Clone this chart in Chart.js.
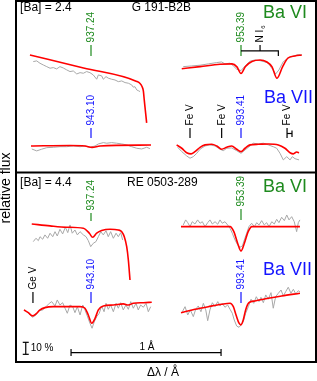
<!DOCTYPE html>
<html><head><meta charset="utf-8">
<script src="https://cdn.jsdelivr.net/npm/chart.js@4.4.0/dist/chart.umd.min.js"></script>
<style>html,body{margin:0;padding:0;background:#fff;}canvas{display:block;}</style>
</head><body>
<canvas id="c" width="317" height="381"></canvas>
<script>
// x: wavelength offset from the line centre (Å); y: relative flux (%) incl. vertical shift
// ---- G 191-B2B, [Ba] = 2.4 ----
const g937ObsDl = [-0.385,-0.362,-0.34,-0.318,-0.295,-0.273,-0.251,-0.229,-0.207,-0.185,-0.162,-0.14,-0.118,-0.095,-0.073,-0.051,-0.029,-0.007,0.015,0.038,0.049,0.071,0.082,0.1,0.115,0.138,0.16,0.182,0.205,0.227,0.249,0.271,0.282,0.293,0.305,0.315,0.327];
const g937ObsF  = [250.3,250.9,248.9,247.5,246.1,244.8,245.3,244.2,246.1,245,243.4,242,242.5,240,241.1,240.6,242,241.1,239.2,235.6,239.2,238.4,235.6,237.8,236.5,235.6,235,233.6,234.2,232.8,232.3,230.9,229,229.4,226.7,226.1,225.3];
const g937ModDl = [-0.407,-0.05,0.305,0.327,0.34,0.349,0.355,0.362,0.371];
const g937ModF  = [255.8,245,233.8,232.1,229.6,225.9,218.4,210,199.2];

const g943ObsDl = [-0.395,-0.362,-0.329,-0.295,-0.251,-0.207,-0.162,-0.118,-0.073,-0.04,-0.007,0.027,0.049,0.082,0.105,0.138,0.171,0.205,0.238,0.271,0.305,0.338,0.371,0.393];
const g943ObsF  = [177.5,175.9,177.3,178.6,178.9,179.4,179.4,180,179.4,180,178.9,180,181.7,182.8,182.3,182.8,182.3,181.7,180.9,179.4,178.1,177.5,178.9,177.8];
const g943ModDl = [-0.4,-0.14,-0.04,0.007,0.06,0.4];
const g943ModF  = [180,180.4,180,178.8,180,180.8];

const g953ObsDl = [-0.385,-0.329,-0.273,-0.218,-0.162,-0.129,-0.107,-0.073,-0.051,-0.029,0,0.027,0.06,0.093,0.127,0.16,0.182,0.205,0.231,0.253,0.282,0.315,0.349,0.382,0.405];
const g953ObsF  = [246.1,246.7,247.3,248.4,249.5,250,248.4,249,246.7,244,242.8,246.7,250.6,251.7,251.1,250,249,244.8,240,243.4,250.3,253.1,255,256.1,255.9];
const g953ModDl = [-0.395,-0.273,-0.14,-0.06,-0.027,0,0.03,0.073,0.127,0.173,0.207,0.24,0.277,0.313,0.36,0.405];
const g953ModF  = [244.4,246.1,248.1,248.4,245.9,240.4,246.3,250.4,251.7,250,245.9,236.4,245.9,253.3,255,255.8];

const g993ObsDl = [-0.422,-0.395,-0.362,-0.34,-0.318,-0.295,-0.273,-0.24,-0.207,-0.173,-0.14,-0.118,-0.095,-0.062,-0.029,0,0.027,0.06,0.082,0.115,0.149,0.182,0.215,0.238,0.26,0.282,0.305,0.327,0.342,0.36,0.387];
const g993ObsF  = [178.9,175.3,171.7,169.8,171.1,173.9,177.3,180,180.9,180,177.3,176.1,178.1,178.4,176.1,173.9,176.7,180,182.3,181.7,182.3,180.9,179.4,178.1,173.9,168.4,171.1,168.4,171.1,169.4,168.4];
const g993ModDl = [-0.429,-0.395,-0.362,-0.333,-0.307,-0.273,-0.24,-0.195,-0.162,-0.129,-0.095,-0.062,-0.029,0,0.027,0.06,0.115,0.182,0.249,0.293,0.327,0.349,0.371,0.387];
const g993ModF  = [180.9,178.1,174.4,173.4,175.3,178.9,180.9,181.4,180,177.3,178.9,180,177.3,175.3,178.1,180.9,181.4,181.7,180.9,178.1,174.4,173.4,175,174.4];

// ---- RE 0503-289, [Ba] = 4.4 ----
const r937ObsDl = [-0.385,-0.367,-0.351,-0.34,-0.322,-0.307,-0.289,-0.273,-0.255,-0.24,-0.225,-0.207,-0.189,-0.171,-0.155,-0.14,-0.125,-0.107,-0.091,-0.073,-0.051,-0.033,-0.018,-0.002,0.015,0.033,0.049,0.065,0.082,0.1,0.115,0.131,0.149,0.167,0.182,0.198,0.211];
const r937ObsF  = [100.3,103.1,101.1,104.4,102.3,105.9,103.1,107.3,104.4,108.6,105,110.6,106.7,112.3,107.8,114.2,107.3,110,105.9,108.6,105.9,104.4,101.1,96.1,98.9,100.3,104.4,108.6,105.9,109.4,104.4,108.6,103.1,107.3,104.4,107.8,101.7];
const r937ModDl = [-0.395,-0.273,-0.162,-0.051,-0.011,0.011,0.038,0.071,0.127,0.182,0.205,0.222,0.238,0.249,0.26];
const r937ModF  = [115,113.4,112.3,111.4,107.3,103.9,107.3,109.5,110.6,110,108.6,104.4,96.1,85,68.3];

const r943ObsDl = [-0.44,-0.418,-0.389,-0.367,-0.345,-0.322,-0.3,-0.278,-0.262,-0.24,-0.225,-0.207,-0.189,-0.173,-0.158,-0.14,-0.122,-0.107,-0.091,-0.073,-0.055,-0.04,-0.025,-0.007,0.007,0.022,0.038,0.055,0.071,0.087,0.1,0.115,0.131,0.149,0.167,0.182,0.198,0.215,0.233,0.249,0.265,0.282,0.3,0.315,0.331,0.349,0.367,0.382,0.398];
const r943ObsF  = [43.4,40.6,37.3,39.2,42.8,43.4,46.1,48.9,50.3,46.7,51.7,47.5,49.4,44.8,40.6,47.5,46.1,41.1,46.1,39.2,47.5,43.4,38.4,32.3,28.1,33.6,37.8,40.6,46.7,41.9,48.9,43.9,47.5,41.9,48.9,44.8,49.4,43.4,47.5,43.9,50.3,44.8,48.9,43.4,47.5,45.6,48.9,41.9,46.1];
const r943ModDl = [-0.447,-0.418,-0.389,-0.367,-0.34,-0.307,-0.251,-0.162,-0.073,-0.04,-0.018,0.005,0.027,0.049,0.082,0.149,0.215,0.249,0.282,0.349,0.405];
const r943ModF  = [43.4,41.1,38.4,40,43.4,45.3,46.1,46.1,46.1,44.8,39.2,32.3,36.4,43.4,46.7,47.5,48.4,47.5,48.9,49.4,49.8];

const r953ObsDl = [-0.385,-0.369,-0.355,-0.34,-0.325,-0.307,-0.289,-0.273,-0.258,-0.24,-0.222,-0.207,-0.191,-0.173,-0.155,-0.14,-0.125,-0.107,-0.089,-0.073,-0.058,-0.04,-0.022,-0.007,0.009,0.022,0.038,0.053,0.071,0.089,0.105,0.12,0.138,0.155,0.171,0.187,0.205,0.222,0.238,0.253,0.271,0.289,0.305,0.32,0.338,0.355,0.371,0.382,0.393];
const r953ObsF  = [114.2,118.4,116.1,112.8,116.9,115,118.4,115.6,116.9,112.8,116.1,118.4,115,116.9,114.8,118.4,115.6,116.9,114.2,111.4,107.3,101.7,97.5,95.6,96.7,101.7,107.3,112.8,115.6,112.8,116.1,114.2,117.8,114.2,116.1,112.8,116.9,115,118.9,116.1,120.6,117.8,122.5,118.4,121.1,116.9,108.6,116.1,118.4];
const r953ModDl = [-0.4,-0.073,-0.047,-0.023,0,0.023,0.047,0.073,0.393];
const r953ModF  = [112.8,112.8,108.4,99.2,92.5,99.2,108.4,112.8,112.8];

const r993ObsDl = [-0.391,-0.373,-0.355,-0.338,-0.318,-0.302,-0.285,-0.267,-0.251,-0.235,-0.222,-0.207,-0.191,-0.173,-0.155,-0.14,-0.125,-0.107,-0.089,-0.073,-0.058,-0.045,-0.029,-0.013,0,0.015,0.031,0.049,0.067,0.085,0.102,0.12,0.133,0.149,0.165,0.182,0.2,0.215,0.231,0.249,0.267,0.282,0.298,0.315,0.333,0.349,0.365,0.382,0.393];
const r993ObsF  = [41.9,46.1,39.2,43.4,37.8,43.9,46.7,41.9,48.9,43.4,34.4,43.4,49.4,46.1,50.3,46.7,48.9,45.6,47.5,43.9,40.6,35,30,28.9,30.9,33.6,40.6,46.1,52.3,48.9,54.4,50.3,53.9,49.4,55.9,52.3,57.8,44.8,54.4,57.3,60,55,58.6,62.3,57.3,60.6,56.7,59.4,58.4];
const r993ModDl = [-0.4,-0.307,-0.218,-0.129,-0.073,-0.051,-0.033,-0.013,0,0.015,0.031,0.053,0.093,0.182,0.271,0.393];
const r993ModF  = [41.1,43.9,46.1,48.1,48.9,46.1,39.2,32.3,30.9,35,43.4,49.4,50.9,53.1,55,57.3];

// column offsets (Å) for the left / right halves of each panel
const columnShift = [0, 1];

// line identifications: label, position (Å), tick bottom / top (flux %)
const lineLabels = ['937.24','943.10','953.39','Fe V','Fe V','993.41','Fe V','937.24','953.39','943.10','Ge V','993.41'];
const lineX      = [0, 0, 1, 0.66, 0.871, 1, 1.307, 0, 1, 0, -0.387, 1];
const lineLo     = [255, 186.7, 255, 186.7, 186.7, 186.7, 186.7, 117.5, 118.4, 49.2, 49.2, 49.2];
const lineHi     = [264.2, 195, 264.2, 195, 195, 195, 195, 124.2, 127.5, 58.4, 58.4, 58.4];
const lineIon    = ['VI','VII','VI','x','x','VII','x','VI','VI','VII','x','VII'];

const panelTitles = ['[Ba] = 2.4', 'G 191-B2B', '[Ba] = 4.4', 'RE 0503-289'];
const panelSplit = 157.8;

const GREEN = '#1e8a1e', BLUE = '#1414ff', RED = '#ff0000', GREY = '#a8a8a8', BLACK = '#000';
const colorOf = ion => ion === 'VI' ? GREEN : ion === 'VII' ? BLUE : BLACK;

function pts(dl, f, shift) { return dl.map((d, i) => ({ x: d + shift, y: f[i] })); }

const spectra = [
  [g937ObsDl, g937ObsF, g937ModDl, g937ModF, columnShift[0]],
  [g943ObsDl, g943ObsF, g943ModDl, g943ModF, columnShift[0]],
  [g953ObsDl, g953ObsF, g953ModDl, g953ModF, columnShift[1]],
  [g993ObsDl, g993ObsF, g993ModDl, g993ModF, columnShift[1]],
  [r937ObsDl, r937ObsF, r937ModDl, r937ModF, columnShift[0]],
  [r943ObsDl, r943ObsF, r943ModDl, r943ModF, columnShift[0]],
  [r953ObsDl, r953ObsF, r953ModDl, r953ModF, columnShift[1]],
  [r993ObsDl, r993ObsF, r993ModDl, r993ModF, columnShift[1]]
];

const datasets = [];
spectra.forEach(s => {
  datasets.push({ data: pts(s[0], s[1], s[4]), borderColor: GREY, borderWidth: 1, tension: 0, order: 3 });
  datasets.push({ data: pts(s[2], s[3], s[4]), borderColor: RED, borderWidth: 1.6, cubicInterpolationMode: 'monotone', order: 2 });
});
function seg(p, color, w) { datasets.push({ data: p, borderColor: color, borderWidth: w || 1.2, tension: 0, order: 1 }); }
// N I multiplet bracket
seg([{x:1,y:259.2},{x:1.249,y:259.2},{x:1.249,y:255}], BLACK);
seg([{x:1.127,y:259.2},{x:1.127,y:264.2}], BLACK);
// Fe V doublet bracket
seg([{x:1.307,y:190.4},{x:1.34,y:190.4}], BLACK);
seg([{x:1.34,y:187.5},{x:1.34,y:192.9}], BLACK);
lineLabels.forEach((t, i) => seg([{x:lineX[i],y:lineLo[i]},{x:lineX[i],y:lineHi[i]}], colorOf(lineIon[i])));
// 10 % flux bar and 1 Å wavelength bar
seg([{x:-0.435,y:6.4},{x:-0.435,y:16.4}], BLACK);
seg([{x:-0.455,y:16.4},{x:-0.415,y:16.4}], BLACK);
seg([{x:-0.455,y:6.4},{x:-0.415,y:6.4}], BLACK);
seg([{x:-0.133,y:7.75},{x:0.867,y:7.75}], BLACK);
seg([{x:-0.133,y:5},{x:-0.133,y:10.8}], BLACK);
seg([{x:0.867,y:5},{x:0.867,y:10.8}], BLACK);

const FONT = '"Liberation Sans", Arial, Helvetica, sans-serif';
const decor = {
  id: 'decor',
  afterDraw(chart) {
    const c = chart.ctx, a = chart.chartArea, X = chart.scales.x, Y = chart.scales.y;
    const px = v => X.getPixelForValue(v), py = v => Y.getPixelForValue(v);
    c.save();
    c.strokeStyle = BLACK; c.lineWidth = 2;
    c.strokeRect(a.left, a.top, a.right - a.left, a.bottom - a.top);
    c.beginPath(); c.moveTo(a.left, py(panelSplit)); c.lineTo(a.right, py(panelSplit)); c.stroke();
    c.fillStyle = BLACK; c.textBaseline = 'middle'; c.textAlign = 'left';
    c.font = '12px ' + FONT;
    c.fillText(panelTitles[0], px(-0.473), py(295));
    c.fillText(panelTitles[1], px(0.271), py(295));
    c.fillText(panelTitles[2], px(-0.473), py(149.2));
    c.fillText(panelTitles[3], px(0.24), py(149.2));
    c.font = '18px ' + FONT;
    c.fillStyle = GREEN; c.fillText('Ba VI', px(1.147), py(290.4)); c.fillText('Ba VI', px(1.147), py(145.8));
    c.fillStyle = BLUE; c.fillText('Ba VII', px(1.153), py(220)); c.fillText('Ba VII', px(1.147), py(76.9));
    // rotated line labels
    c.font = '10px ' + FONT;
    lineLabels.forEach((t, i) => {
      c.save(); c.translate(px(lineX[i]), py(lineHi[i]) - 2.5); c.rotate(-Math.PI / 2);
      c.fillStyle = colorOf(lineIon[i]); c.fillText(t, 0, 0.5); c.restore();
    });
    c.save(); c.translate(px(1.127), py(264.2) - 2.5); c.rotate(-Math.PI / 2);
    c.fillStyle = BLACK; c.fillText('N I', 0, 0.5);
    const w = c.measureText('N I').width; c.font = '6px ' + FONT; c.fillText('6', w + 1, 3.5); c.restore();
    // scale bar labels
    c.fillStyle = BLACK; c.font = '10px ' + FONT;
    c.fillText('10 %', px(-0.402), py(11.7));
    c.textAlign = 'center'; c.fillText('1 Å', px(0.373), py(12.5));
    // axis titles
    c.font = '12px ' + FONT;
    c.fillText('Δλ / Å', px(0.48), py(-9.2));
    c.save(); c.translate(px(-0.567), py(145)); c.rotate(-Math.PI / 2);
    c.font = '14px ' + FONT; c.fillText('relative flux', 0, 0); c.restore();
    c.restore();
  }
};

new Chart(document.getElementById('c').getContext('2d'), {
  type: 'line',
  data: { datasets },
  options: {
    responsive: false, animation: false, events: [],
    layout: { padding: { left: 16, right: 1, top: 1, bottom: 19 } },
    scales: {
      x: { type: 'linear', min: -0.5, max: 1.5, display: false },
      y: { type: 'linear', min: 0, max: 300.8, display: false }
    },
    elements: { point: { radius: 0 } },
    plugins: { legend: { display: false }, tooltip: { enabled: false } }
  },
  plugins: [decor]
});
</script>
</body></html>
